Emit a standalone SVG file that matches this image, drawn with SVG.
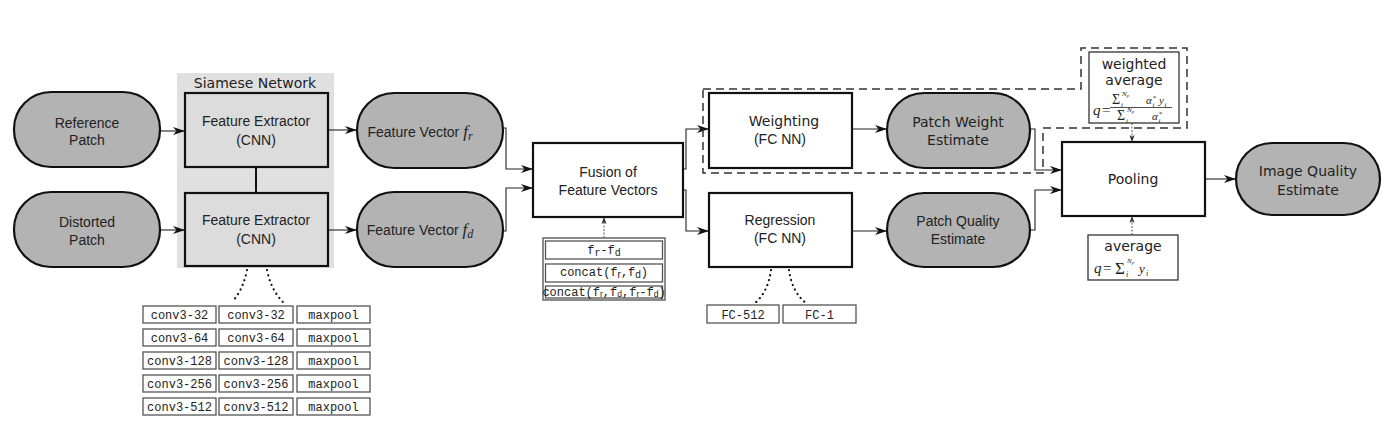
<svg xmlns="http://www.w3.org/2000/svg" width="1400" height="433" viewBox="0 0 1400 433">
<defs>
<marker id="ah" viewBox="0 0 12 8" refX="12" refY="4" markerWidth="12" markerHeight="8" markerUnits="userSpaceOnUse" orient="auto">
<path d="M0,0 L12,4 L0,8 L3.5,4 z" fill="#111"/>
</marker>
<marker id="ahs" viewBox="0 0 8 6" refX="8" refY="3" markerWidth="7" markerHeight="6" markerUnits="userSpaceOnUse" orient="auto">
<path d="M0,0 L8,3 L0,6 L2,3 z" fill="#333"/>
</marker>
<style>
.pill{fill:#b3b3b3;stroke:#111;stroke-width:2.2}
.box{fill:#fff;stroke:#111;stroke-width:2.2}
.fe{fill:#dcdcdc;stroke:#111;stroke-width:2.2}
.t{font-family:"Liberation Sans",Arial,sans-serif;font-size:14px;fill:#222;text-anchor:middle}
.d{font-family:"DejaVu Sans",sans-serif;font-size:14px;fill:#222;text-anchor:middle}
.m{font-family:"Liberation Mono","Courier New",monospace;font-size:12px;fill:#222;text-anchor:middle}
.s{font-family:"Liberation Serif","Times New Roman",serif;font-style:italic;fill:#222}
.g{font-family:"Liberation Serif","Times New Roman",serif;fill:#222}
.sm{fill:#fff;stroke:#555;stroke-width:1.3}
.c{fill:none;stroke:#222;stroke-width:1.1}
.dot{fill:none;stroke:#111;stroke-width:2.2;stroke-dasharray:0.1 5;stroke-linecap:round}
.dash{fill:none;stroke:#333;stroke-width:1.5;stroke-dasharray:8 5}
.vd{fill:none;stroke:#555;stroke-width:1;stroke-dasharray:2 1.5}
</style>
</defs>
<rect width="1400" height="433" fill="#fff"/>

<g id="siamese">
<rect x="177" y="73" width="157" height="195" fill="#e0e0e0"/>
<text class="d" x="255" y="88" font-size="14.5">Siamese Network</text>
</g>

<g id="connectors">
<line class="c" x1="160" y1="131" x2="185" y2="131" marker-end="url(#ah)"/>
<line class="c" x1="160" y1="230" x2="185" y2="230" marker-end="url(#ah)"/>
<line x1="256" y1="167" x2="256" y2="193" stroke="#111" stroke-width="2"/>
<line class="c" x1="328" y1="130" x2="357" y2="130" marker-end="url(#ah)"/>
<line class="c" x1="328" y1="230" x2="357" y2="230" marker-end="url(#ah)"/>
<path class="c" d="M503,128 H506 V169 H533" marker-end="url(#ah)"/>
<path class="c" d="M503,231 H506 V188 H533" marker-end="url(#ah)"/>
<path class="c" d="M683,169 H686 V129 H709" marker-end="url(#ah)"/>
<path class="c" d="M683,190 H686 V231 H709" marker-end="url(#ah)"/>
<line class="c" x1="852" y1="129" x2="887" y2="129" marker-end="url(#ah)"/>
<line class="c" x1="852" y1="231" x2="887" y2="231" marker-end="url(#ah)"/>
<path class="c" d="M1030,129 H1035 V170 H1062" marker-end="url(#ah)"/>
<path class="c" d="M1030,230 H1035 V190 H1062" marker-end="url(#ah)"/>
<line class="c" x1="1205" y1="179" x2="1236" y2="179" marker-end="url(#ah)"/>
<line class="vd" x1="1132" y1="123" x2="1132" y2="142" marker-end="url(#ahs)"/>
<line class="vd" x1="1132" y1="235" x2="1132" y2="216" marker-end="url(#ahs)"/>
<line class="vd" x1="604" y1="238" x2="604" y2="217" marker-end="url(#ahs)"/>
<path class="dot" d="M247,270 Q243,290 232,302"/>
<path class="dot" d="M267,270 Q271,290 283,302"/>
<path class="dot" d="M771,270 Q768,292 755,303"/>
<path class="dot" d="M789,270 Q792,292 806,303"/>
<path class="dash" d="M703,89 H1081 V48 H1187 V128 H1043 V173 H703 Z"/>
</g>

<g id="reference-patch">
<rect class="pill" x="14" y="92" width="146" height="75" rx="37"/>
<text class="t" x="87" y="128">Reference</text>
<text class="t" x="87" y="145">Patch</text>
</g>
<g id="distorted-patch">
<rect class="pill" x="14" y="192" width="146" height="75" rx="37"/>
<text class="t" x="87" y="227">Distorted</text>
<text class="t" x="87" y="245">Patch</text>
</g>
<g id="fe1">
<rect class="fe" x="185" y="93" width="143" height="74"/>
<text class="t" x="256" y="126">Feature Extractor</text>
<text class="t" x="256" y="145">(CNN)</text>
</g>
<g id="fe2">
<rect class="fe" x="185" y="193" width="143" height="73"/>
<text class="t" x="256" y="225">Feature Extractor</text>
<text class="t" x="256" y="244">(CNN)</text>
</g>
<g id="fv-r">
<rect class="pill" x="357" y="93" width="146" height="75" rx="37"/>
<text class="t" x="420" y="137">Feature Vector <tspan class="s" font-size="17">f</tspan><tspan class="s" font-size="12" dy="3">r</tspan></text>
</g>
<g id="fv-d">
<rect class="pill" x="357" y="192" width="146" height="75" rx="37"/>
<text class="t" x="420" y="235">Feature Vector <tspan class="s" font-size="17">f</tspan><tspan class="s" font-size="12" dy="3">d</tspan></text>
</g>
<g id="fusion">
<rect class="box" x="533" y="143" width="150" height="74"/>
<text class="t" x="608" y="177">Fusion of</text>
<text class="t" x="608" y="195">Feature Vectors</text>
</g>
<g id="fusion-options">
<rect x="543" y="238" width="122" height="62" fill="#fff" stroke="#666" stroke-width="1.5"/>
<rect class="sm" x="545.5" y="241" width="117" height="18"/>
<rect class="sm" x="545.5" y="264" width="117" height="18"/>
<rect class="sm" x="545.5" y="286" width="117" height="12"/>
<text class="m" x="604" y="254" font-family="Liberation Sans" font-size="12.5">f<tspan font-size="10" dy="2">r</tspan><tspan dy="-2">-f</tspan><tspan font-size="10" dy="2">d</tspan></text>
<text class="m" x="604" y="276" font-size="11">concat(f<tspan font-family="Liberation Sans" font-size="10" dy="1.5">r</tspan><tspan dy="-1.5">,f</tspan><tspan font-family="Liberation Sans" font-size="10" dy="1.5">d</tspan><tspan dy="-1.5">)</tspan></text>
<text class="m" x="604" y="295.5" font-size="9.4">concat(f<tspan font-family="Liberation Sans" font-size="8.5" dy="1">r</tspan><tspan dy="-1">,f</tspan><tspan font-family="Liberation Sans" font-size="8.5" dy="1">d</tspan><tspan dy="-1">,f</tspan><tspan font-family="Liberation Sans" font-size="8.5" dy="1">r</tspan><tspan dy="-1">-f</tspan><tspan font-family="Liberation Sans" font-size="8.5" dy="1">d</tspan><tspan dy="-1">)</tspan></text>
</g>
<g id="weighting">
<rect class="box" x="709" y="93" width="143" height="75"/>
<text class="d" x="784" y="126">Weighting</text>
<text class="t" x="780" y="144">(FC NN)</text>
</g>
<g id="regression">
<rect class="box" x="709" y="193" width="143" height="74"/>
<text class="t" x="780" y="225">Regression</text>
<text class="t" x="780" y="243">(FC NN)</text>
</g>
<g id="patch-weight">
<rect class="pill" x="887" y="93" width="143" height="75" rx="37"/>
<text class="d" x="958" y="127">Patch Weight</text>
<text class="d" x="958" y="145">Estimate</text>
</g>
<g id="patch-quality">
<rect class="pill" x="887" y="193" width="143" height="74" rx="37"/>
<text class="t" x="958" y="226">Patch Quality</text>
<text class="t" x="958" y="244">Estimate</text>
</g>
<g id="pooling">
<rect class="box" x="1062" y="142" width="143" height="74"/>
<text class="d" x="1133" y="184" font-size="15">Pooling</text>
</g>
<g id="image-quality">
<rect class="pill" x="1236" y="143" width="144" height="72" rx="36"/>
<text class="d" x="1308" y="176" font-size="15">Image Quality</text>
<text class="d" x="1308" y="195" font-size="15">Estimate</text>
</g>
<g id="weighted-average">
<rect x="1089" y="52" width="90" height="71" fill="#fff" stroke="#333" stroke-width="1.3"/>
<text class="d" x="1134" y="69" font-size="11">weighted</text>
<text class="d" x="1134" y="85" font-size="11">average</text>
<text class="s" x="1093" y="115" font-size="15">q</text>
<text class="g" x="1102" y="115" font-size="15">=</text>
<text class="g" x="1112" y="104" font-size="14">Σ</text>
<text class="s" x="1121" y="107" font-size="7">i</text>
<text class="s" x="1122" y="96" font-size="7">N<tspan font-size="5" dy="1">p</tspan></text>
<text class="s" x="1146" y="104" font-size="11">α</text>
<text class="s" x="1152.5" y="106.5" font-size="7">i</text>
<text class="s" x="1152.5" y="100" font-size="7">*</text>
<text class="s" x="1159" y="104" font-size="11">y</text>
<text class="s" x="1164.5" y="106.5" font-size="7">i</text>
<line x1="1110" y1="107.5" x2="1172" y2="107.5" stroke="#222" stroke-width="0.8"/>
<text class="g" x="1117" y="120" font-size="14">Σ</text>
<text class="s" x="1126" y="123" font-size="7">i</text>
<text class="s" x="1127" y="112" font-size="7">N<tspan font-size="5" dy="1">p</tspan></text>
<text class="s" x="1152" y="120" font-size="11">α</text>
<text class="s" x="1158.5" y="122.5" font-size="7">i</text>
<text class="s" x="1158.5" y="116" font-size="7">*</text>
</g>
<g id="average">
<rect x="1088" y="235" width="90" height="45" fill="#fff" stroke="#333" stroke-width="1.3"/>
<text class="d" x="1133" y="251" font-size="11">average</text>
<text class="s" x="1094" y="273" font-size="15">q</text>
<text class="g" x="1103" y="273" font-size="15">=</text>
<text class="g" x="1115" y="274" font-size="17">Σ</text>
<text class="s" x="1126" y="277" font-size="8">i</text>
<text class="s" x="1127" y="263" font-size="7">N<tspan font-size="5" dy="1">p</tspan></text>
<text class="s" x="1139" y="273" font-size="13">y</text>
<text class="s" x="1146" y="275.5" font-size="8">i</text>
</g>
<g id="conv-table">
<rect class="sm" x="143" y="306" width="73" height="17"/><text class="m" x="179.5" y="318.5">conv3-32</text>
<rect class="sm" x="219" y="306" width="74" height="17"/><text class="m" x="256" y="318.5">conv3-32</text>
<rect class="sm" x="297" y="306" width="73" height="17"/><text class="m" x="333.5" y="318.5">maxpool</text>
<rect class="sm" x="143" y="329" width="73" height="17"/><text class="m" x="179.5" y="341.5">conv3-64</text>
<rect class="sm" x="219" y="329" width="74" height="17"/><text class="m" x="256" y="341.5">conv3-64</text>
<rect class="sm" x="297" y="329" width="73" height="17"/><text class="m" x="333.5" y="341.5">maxpool</text>
<rect class="sm" x="143" y="352" width="73" height="17"/><text class="m" x="179.5" y="364.5">conv3-128</text>
<rect class="sm" x="219" y="352" width="74" height="17"/><text class="m" x="256" y="364.5">conv3-128</text>
<rect class="sm" x="297" y="352" width="73" height="17"/><text class="m" x="333.5" y="364.5">maxpool</text>
<rect class="sm" x="143" y="375" width="73" height="17"/><text class="m" x="179.5" y="387.5">conv3-256</text>
<rect class="sm" x="219" y="375" width="74" height="17"/><text class="m" x="256" y="387.5">conv3-256</text>
<rect class="sm" x="297" y="375" width="73" height="17"/><text class="m" x="333.5" y="387.5">maxpool</text>
<rect class="sm" x="143" y="398" width="73" height="17"/><text class="m" x="179.5" y="410.5">conv3-512</text>
<rect class="sm" x="219" y="398" width="74" height="17"/><text class="m" x="256" y="410.5">conv3-512</text>
<rect class="sm" x="297" y="398" width="73" height="17"/><text class="m" x="333.5" y="410.5">maxpool</text>
</g>
<g id="fc-table">
<rect class="sm" x="707" y="305" width="72" height="18"/><text class="m" x="743" y="318.5">FC-512</text>
<rect class="sm" x="783" y="305" width="73" height="18"/><text class="m" x="819.5" y="318.5">FC-1</text>
</g>
</svg>
